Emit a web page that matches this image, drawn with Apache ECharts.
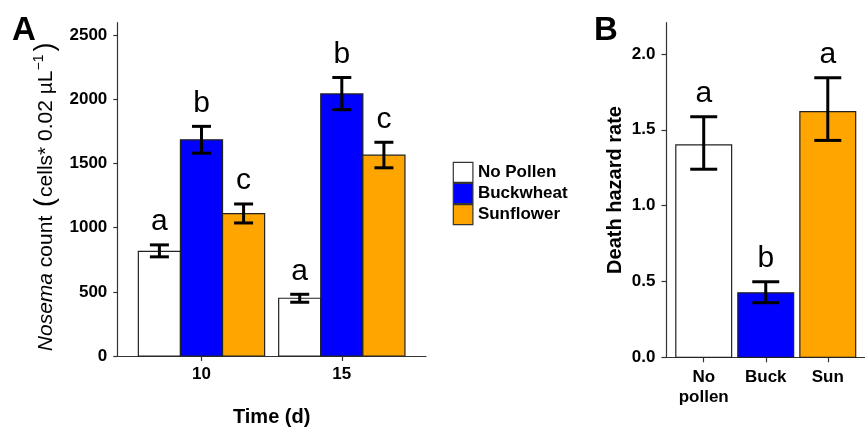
<!DOCTYPE html>
<html>
<head>
<meta charset="utf-8">
<script src="https://cdn.jsdelivr.net/npm/echarts@6/dist/echarts.min.js"></script>
<style>
  html, body { margin: 0; padding: 0; background: #fff; }
  #chart { width: 865px; height: 432px; }
</style>
</head>
<body>
<div id="chart"></div>
<script>
// Panel A: Nosema count by time and pollen treatment
const timeLabels = ['10', '15'];
const treatments = ['No Pollen', 'Buckwheat', 'Sunflower'];
const treatmentColors = ['#ffffff', '#0000ff', '#ffa500'];
const noPollenCount = [815, 450];
const noPollenLo = [773, 419];
const noPollenHi = [866, 481];
const buckwheatCount = [1685, 2043];
const buckwheatLo = [1581, 1920];
const buckwheatHi = [1790, 2171];
const sunflowerCount = [1110, 1565];
const sunflowerLo = [1037, 1467];
const sunflowerHi = [1185, 1666];
const lettersA = [['a', 'a'], ['b', 'b'], ['c', 'c']];
const yTicksA = [0, 500, 1000, 1500, 2000, 2500];

// Panel B: death hazard rate
const hazardLabels = ['No\npollen', 'Buck', 'Sun'];
const hazardRate = [1.40, 0.425, 1.62];
const hazardLo = [1.24, 0.36, 1.43];
const hazardHi = [1.586, 0.498, 1.843];
const lettersB = ['a', 'b', 'a'];
const yTicksB = [0, 0.5, 1.0, 1.5, 2.0];

const FONT = '"Liberation Sans", Arial, Helvetica, sans-serif';

const chart = echarts.init(document.getElementById('chart'), null, { renderer: 'canvas' });

// bars + error bars + letter, drawn through the axis scales
function makeRender(letters, colorOf, barUnits, capPx) {
  return function (params, api) {
    const i = params.dataIndex;
    const x = api.value(0);
    const topLeft = api.coord([x - barUnits / 2, api.value(1)]);
    const bottomRight = api.coord([x + barUnits / 2, 0]);
    const hi = api.coord([x, api.value(3)]);
    const lo = api.coord([x, api.value(2)]);
    const cx = hi[0];
    const errStyle = { stroke: '#000', lineWidth: 3 };
    return {
      type: 'group',
      children: [
        {
          type: 'rect',
          shape: { x: topLeft[0], y: topLeft[1], width: bottomRight[0] - topLeft[0], height: bottomRight[1] - topLeft[1] },
          style: { fill: colorOf(i), stroke: '#222', lineWidth: 1.2 }
        },
        { type: 'line', shape: { x1: cx, y1: hi[1], x2: cx, y2: lo[1] }, style: errStyle },
        { type: 'line', shape: { x1: cx - capPx / 2, y1: hi[1], x2: cx + capPx / 2, y2: hi[1] }, style: errStyle },
        { type: 'line', shape: { x1: cx - capPx / 2, y1: lo[1], x2: cx + capPx / 2, y2: lo[1] }, style: errStyle },
        {
          type: 'text',
          style: {
            text: letters[i], x: cx, y: hi[1] - 8,
            align: 'center', verticalAlign: 'bottom',
            font: '30px ' + FONT, fill: '#000'
          }
        }
      ]
    };
  };
}

function groupData(counts, los, his, offset) {
  return counts.map((v, i) => [i + 1 + offset, v, los[i], his[i]]);
}

const seriesA = [
  [noPollenCount, noPollenLo, noPollenHi],
  [buckwheatCount, buckwheatLo, buckwheatHi],
  [sunflowerCount, sunflowerLo, sunflowerHi]
].map((d, k) => ({
  name: treatments[k],
  type: 'custom',
  xAxisIndex: 0,
  yAxisIndex: 0,
  clip: false,
  itemStyle: { color: treatmentColors[k], borderColor: '#222', borderWidth: 1.2 },
  data: groupData(d[0], d[1], d[2], (k - 1) * 0.3),
  renderItem: makeRender(lettersA[k], () => treatmentColors[k], 0.3, 19)
}));

const seriesB = {
  name: 'Death hazard rate',
  type: 'custom',
  xAxisIndex: 1,
  yAxisIndex: 1,
  clip: false,
  data: groupData(hazardRate, hazardLo, hazardHi, 0),
  renderItem: makeRender(lettersB, i => treatmentColors[i], 0.9, 27)
};

const axisLineStyle = { show: true, lineStyle: { color: '#333', width: 1.2 } };
const tickLabel = { color: '#000', fontFamily: FONT, fontWeight: 'bold', fontSize: 17 };

const option = {
  animation: false,
  backgroundColor: '#fff',
  grid: [
    { left: 117.3, top: 22.7, width: 308.7, height: 334.6 },
    { left: 666.5, top: 22.7, width: 204.3, height: 334.6 }
  ],
  xAxis: [
    {
      gridIndex: 0, type: 'value', min: 0.4, max: 2.6,
      axisLine: axisLineStyle,
      axisTick: { show: true, length: 5, customValues: [1, 2], lineStyle: { color: '#333', width: 1.2 } },
      axisLabel: Object.assign({ margin: 10, customValues: [1, 2], formatter: v => timeLabels[Math.round(v) - 1] }, tickLabel),
      splitLine: { show: false },
      name: 'Time (d)', nameLocation: 'middle', nameGap: 51,
      nameTextStyle: { color: '#000', fontFamily: FONT, fontWeight: 'bold', fontSize: 20 }
    },
    {
      gridIndex: 1, type: 'value', min: 0.4, max: 3.6,
      axisLine: axisLineStyle,
      axisTick: { show: true, length: 5, customValues: [1, 2, 3], lineStyle: { color: '#333', width: 1.2 } },
      axisLabel: Object.assign({ margin: 10, lineHeight: 20, customValues: [1, 2, 3], formatter: v => hazardLabels[Math.round(v) - 1] }, tickLabel),
      splitLine: { show: false }
    }
  ],
  yAxis: [
    {
      gridIndex: 0, type: 'value', min: 0, max: 2598,
      axisLine: axisLineStyle,
      axisTick: { show: true, length: 4, customValues: yTicksA, lineStyle: { color: '#333', width: 1.2 } },
      axisLabel: Object.assign({ margin: 10, customValues: yTicksA, formatter: v => String(v) }, tickLabel),
      splitLine: { show: false },
      name: '{it|Nosema} count {par|(}cells* 0.02 µL{sup|−1}{par|)}',
      nameLocation: 'middle', nameRotate: 90, nameGap: 58,
      nameTextStyle: {
        color: '#000', fontFamily: FONT, fontSize: 21,
        padding: [0, 14, 0, 0],
        rich: {
          it: { fontStyle: 'italic', fontSize: 21, fontFamily: FONT, color: '#000' },
          par: { fontSize: 27, fontFamily: FONT, color: '#000', padding: [0, 1, 0, 3] },
          sup: { fontSize: 14, fontFamily: FONT, color: '#000', verticalAlign: 'top' }
        }
      }
    },
    {
      gridIndex: 1, type: 'value', min: 0, max: 2.206,
      axisLine: axisLineStyle,
      axisTick: { show: true, length: 5, customValues: yTicksB, lineStyle: { color: '#333', width: 1.2 } },
      axisLabel: Object.assign({ margin: 11, customValues: yTicksB, formatter: v => v.toFixed(1) }, tickLabel),
      splitLine: { show: false },
      name: 'Death hazard rate',
      nameLocation: 'middle', nameRotate: 90, nameGap: 41,
      nameTextStyle: { color: '#000', fontFamily: FONT, fontWeight: 'bold', fontSize: 20 }
    }
  ],
  legend: {
    orient: 'vertical',
    left: 452.7,
    top: 161.7,
    padding: 0,
    itemWidth: 19.6,
    itemHeight: 20,
    itemGap: 0,
    icon: 'rect',
    selectedMode: false,
    textStyle: { color: '#000', fontFamily: FONT, fontWeight: 'bold', fontSize: 17 },
    data: treatments.map((t, k) => ({
      name: t,
      itemStyle: { color: treatmentColors[k], borderColor: '#333', borderWidth: 1.2 }
    }))
  },
  graphic: [
    { type: 'text', left: 12, top: 14, style: { text: 'A', font: 'bold 33px ' + FONT, fill: '#000' } },
    { type: 'text', left: 594, top: 14, style: { text: 'B', font: 'bold 33px ' + FONT, fill: '#000' } }
  ],
  series: seriesA.concat([seriesB])
};

chart.setOption(option);
window.addEventListener('resize', () => chart.resize());
</script>
</body>
</html>
